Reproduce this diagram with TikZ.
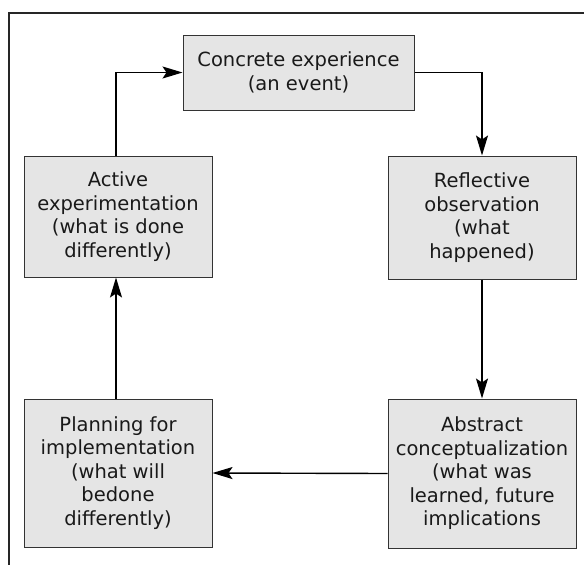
\documentclass[tikz,border=0pt]{standalone}
\usepackage{fontspec}
\setmainfont{DejaVu Sans}
\usetikzlibrary{arrows.meta}
\begin{document}
\begin{tikzpicture}[x=1pt,y=-1pt,
  box/.style={draw=black!80, line width=1pt, fill=black!10, align=center, inner sep=0pt,
    font=\fontsize{19.5}{23.5}\selectfont, text=black!90},
  conn/.style={line width=1.4pt, -{Stealth[length=20pt,width=12pt,inset=4pt]}}]
\useasboundingbox (0,0) rectangle (584,565);
\draw[line width=1.8pt, black!85] (584,13) -- (9,13) -- (9,565);
\node[box, minimum width=231pt, minimum height=75pt] (ce) at (298.5,72.5) {Concrete experience\\(an event)};
\node[box, minimum width=188pt, minimum height=123pt] (ro) at (482,217.5) {Reflective\\observation\\(what\\happened)};
\node[box, minimum width=188pt, minimum height=149pt] (ac) at (482,473.5) {Abstract\\conceptualization\\(what was\\learned, future\\implications};
\node[box, minimum width=188pt, minimum height=148pt] (pi) at (118,473) {Planning for\\implementation\\(what will\\bedone\\differently)};
\node[box, minimum width=188pt, minimum height=121pt] (ae) at (118,216.5) {Active\\experimentation\\(what is done\\differently)};
\draw[conn] (ce.east) -| (ro.north);
\draw[conn] (ro.south) -- (ac.north);
\draw[conn] (ac.west) -- (pi.east);
\draw[conn] (pi.north -| 116,0) -- (ae.south -| 116,0);
\draw[conn] (ae.north -| 116,0) |- (ce.west);
\end{tikzpicture}
\end{document}
